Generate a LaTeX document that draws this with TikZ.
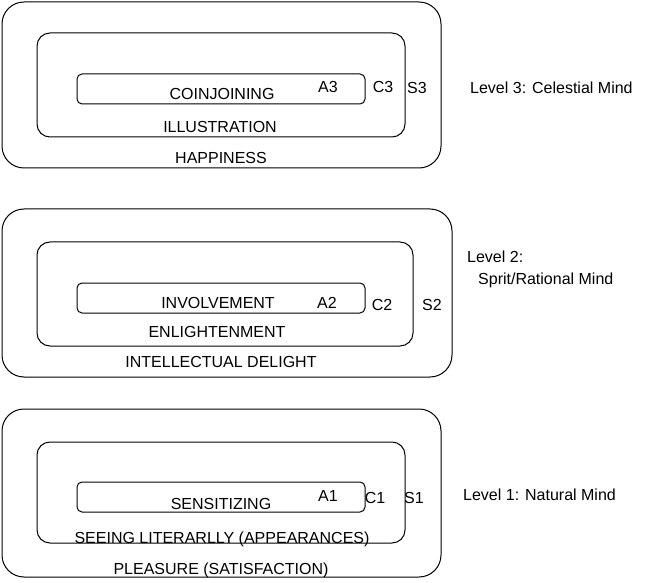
\documentclass[tikz,border=0pt]{standalone}
\usepackage{fontspec}
\setmainfont{Liberation Sans}
\usepackage{tikz}
\usetikzlibrary{positioning}

\begin{document}
\begin{tikzpicture}[x=1pt, y=-1pt,
    outerbox/.style={draw, line width=1pt, rounded corners=22pt},
    midbox/.style={draw, line width=1pt, rounded corners=13pt},
    innerbox/.style={draw, line width=1pt, rounded corners=5pt},
    lbl/.style={inner sep=0pt, anchor=base, font=\fontsize{16}{19}\selectfont},
    lvl/.style={lbl, anchor=base west}]
  \useasboundingbox (0,0) rectangle (646,583);

  % level 3
  \draw[outerbox] (2,2) rectangle (441,168);
  \draw[midbox] (37,33) rectangle (405,137);
  \draw[innerbox] (77,74) rectangle (365,104);
  \node[lbl] (coin) at (222,100) {COINJOINING};
  \node[lbl] (a3) at (328,93) {A3};
  \node[lbl] (c3) at (383,93) {C3};
  \node[lbl] (s3) at (417,94) {S3};
  \node[lbl] (illu) at (220,133) {ILLUSTRATION};
  \node[lbl] (happy) at (221,164) {HAPPINESS};
  \node[lvl] (lev3) at (470,94) {Level 3: Celestial Mind};

  % level 2
  \draw[outerbox] (2,209) rectangle (452,377);
  \draw[midbox] (37,242) rectangle (413,346);
  \draw[innerbox] (77,283) rectangle (365,313);
  \node[lbl] (invo) at (218,308) {INVOLVEMENT};
  \node[lbl] (a2) at (327,308) {A2};
  \node[lbl] (c2) at (382,310) {C2};
  \node[lbl] (s2) at (432,310) {S2};
  \node[lbl] (enli) at (217,337) {ENLIGHTENMENT};
  \node[lbl] (intel) at (221,367) {INTELLECTUAL DELIGHT};
  \node[lvl] (lev2) at (467,262) {Level 2:};
  \node[lvl] (lev2b) at (478,284) {Sprit/Rational Mind};

  % level 1
  \draw[outerbox] (2,409) rectangle (441,577);
  \draw[midbox] (37,442) rectangle (405,543);
  \draw[innerbox] (77,482) rectangle (365,512);
  \node[lbl] (sens) at (221,509) {SENSITIZING};
  \node[lbl] (a1) at (328,501) {A1};
  \node[lbl] (c1) at (375,503) {C1};
  \node[lbl] (s1) at (414,503) {S1};
  \node[lbl] (seeing) at (222,543) {SEEING LITERARLLY (APPEARANCES)};
  \node[lbl] (pleas) at (221,574) {PLEASURE (SATISFACTION)};
  \node[lvl] (lev1) at (463,500) {Level 1: Natural Mind};
\end{tikzpicture}
\end{document}
